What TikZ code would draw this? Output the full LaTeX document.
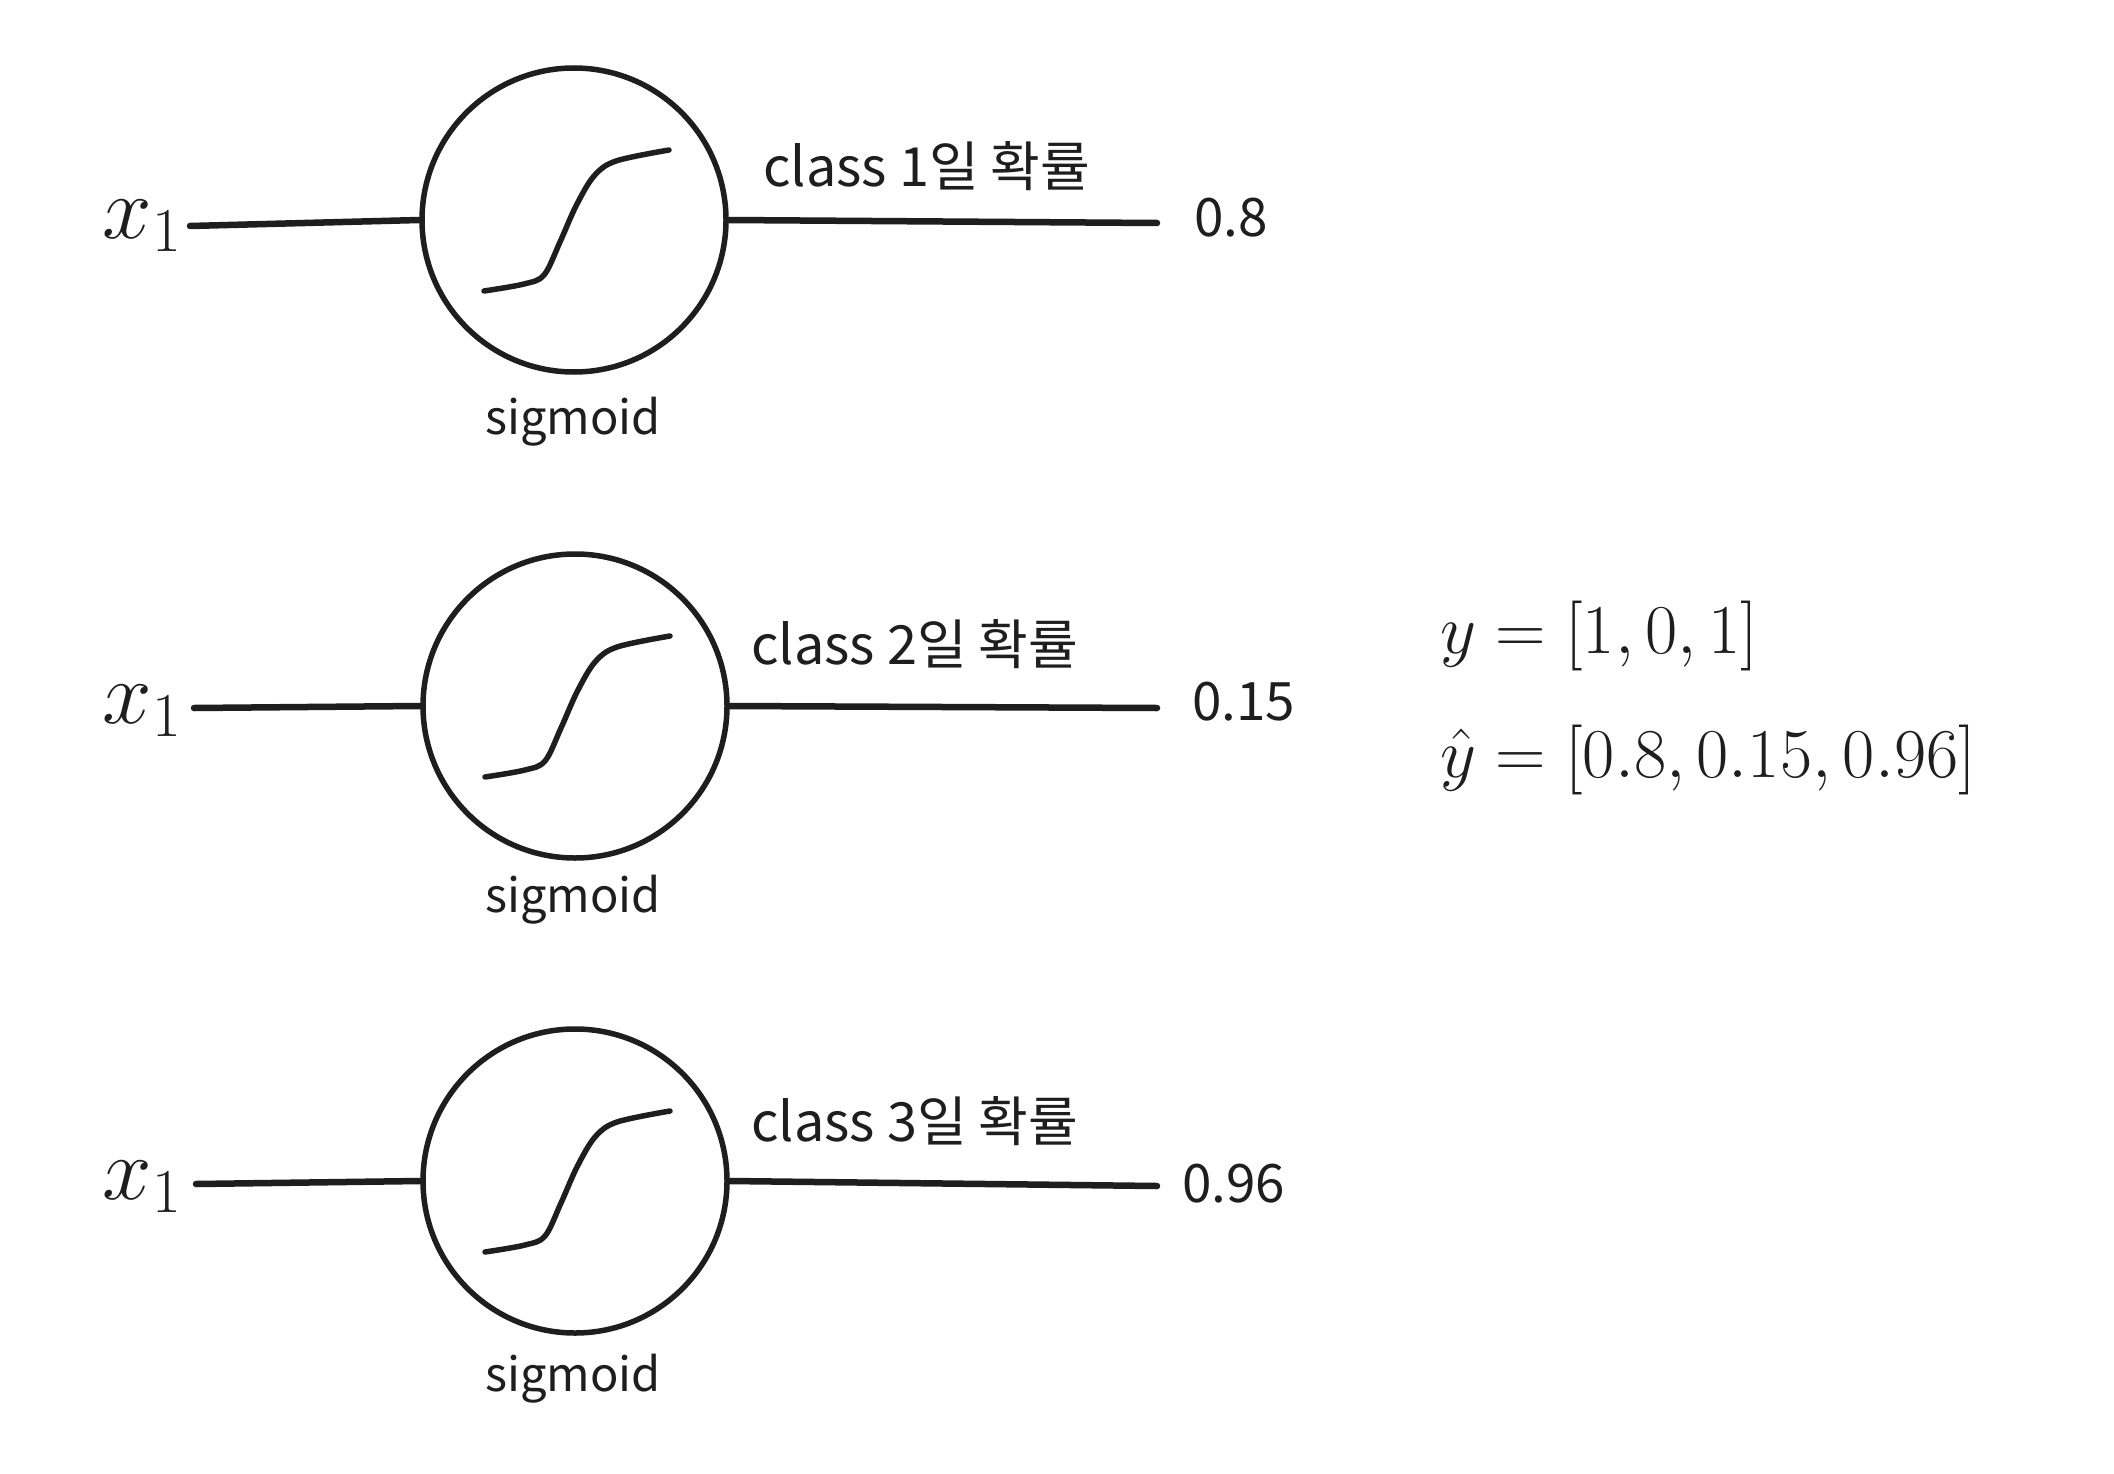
\RequirePackage{fix-cm}
\documentclass[tikz,border=0pt]{standalone}
\usepackage{fontspec}
\setmainfont{Noto Sans CJK KR}
\usetikzlibrary{calc}
\definecolor{ink}{HTML}{1E1E1E}
\begin{document}
\begin{tikzpicture}[x=1pt,y=-1pt,
  neuron/.style={circle, draw=ink, line width=5.5pt, minimum size=304pt, inner sep=0pt},
  wire/.style={draw=ink, line width=6.5pt, line cap=round},
  sigcurve/.style={draw=ink, line width=5.5pt, line cap=round, line join=round},
  xlab/.style={inner sep=0pt, text=ink, font=\fontsize{89}{100}\selectfont},
  cls/.style={anchor=west, inner sep=0pt, text=ink, font=\fontsize{54}{62}\selectfont},
  val/.style={anchor=west, inner sep=0pt, text=ink, font=\fontsize{53}{62}\selectfont},
  siglab/.style={inner sep=0pt, text=ink, font=\fontsize{47}{56}\selectfont},
  eq/.style={anchor=west, inner sep=0pt, text=ink, font=\fontsize{70}{84}\selectfont}]
\useasboundingbox[fill=white] (0,0) rectangle (2114,1474);

% neurons
\node[neuron] (n1) at (574,220) {};
\node[neuron] (n2) at (575,706) {};
\node[neuron] (n3) at (575,1181) {};

% sigmoid curves
\foreach \n in {n1,n2,n3}{
  \begin{scope}[shift={(\n.center)}]
    \draw[sigcurve] plot[smooth, tension=0.55] coordinates
      {(-90,71) (-50,64) (-30,55) (-14,22) (2,-14) (20,-44) (42,-59) (95,-70)};
  \end{scope}
}

% input labels
\node[xlab] (x1) at (142,226) {$x_1$};
\node[xlab] (x2) at (142,711) {$x_1$};
\node[xlab] (x3) at (142,1187) {$x_1$};

\coordinate (s1) at (190,226);
\coordinate (s2) at (194,708);
\coordinate (s3) at (196,1184);
\draw[wire] (s1) -- (n1.west);
\draw[wire] (s2) -- (n2.west);
\draw[wire] (s3) -- (n3.west);

% outputs
\coordinate (e1) at (1157,223);
\coordinate (e2) at (1157,708);
\coordinate (e3) at (1157,1186);
\draw[wire] (n1.east) -- (e1);
\draw[wire] (n2.east) -- (e2);
\draw[wire] (n3.east) -- (e3);

\node[val] (o1) at (1194,218) {0.8};
\node[val] (o2) at (1192,702) {0.15};
\node[val] (o3) at (1182,1184) {0.96};

% class labels
\node[cls] (c1) at (763,166) {class 1일 확률};
\node[cls] (c2) at (751,644) {class 2일 확률};
\node[cls] (c3) at (751,1121) {class 3일 확률};

% sigmoid labels
\node[siglab] (g1) at (573,422) {sigmoid};
\node[siglab] (g2) at (573,900) {sigmoid};
\node[siglab] (g3) at (573,1379) {sigmoid};

% equations
\node[eq] (eqy) at (1440,636) {$y = [1, 0, 1]$};
\node[eq] (eqh) at (1440,760) {$\hat{y} = [0.8, 0.15, 0.96]$};
\end{tikzpicture}
\end{document}
